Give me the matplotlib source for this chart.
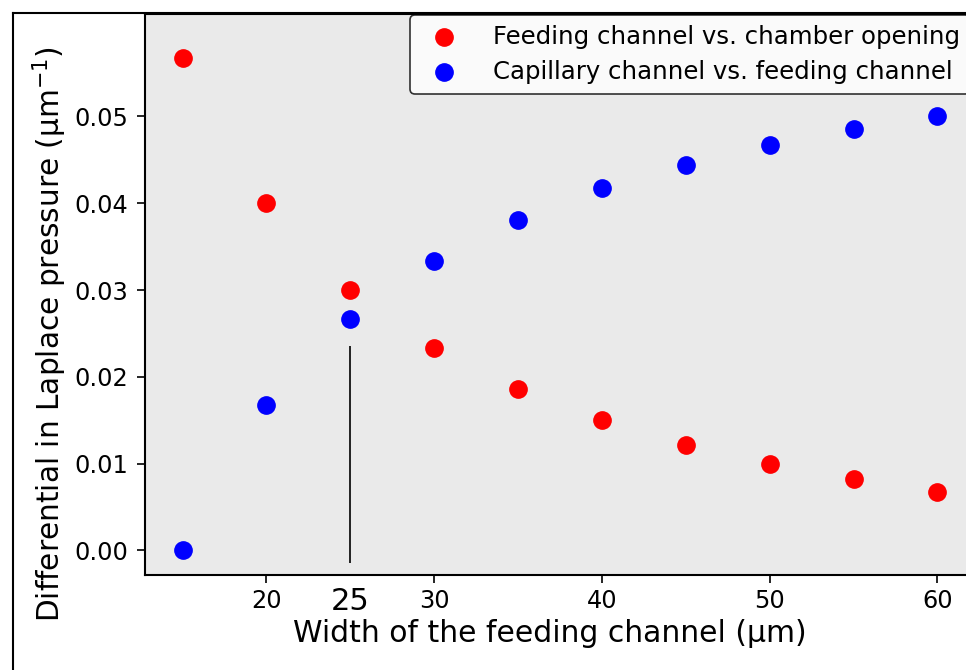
import numpy as np
import matplotlib
matplotlib.use('Agg')
import matplotlib.pyplot as plt
from matplotlib.lines import Line2D

# === Data ===
width = [15, 20, 25, 30, 35, 40, 45, 50, 55, 60]
feed_vs_chamber = [0.0567, 0.0400, 0.0300, 0.0233, 0.0186, 0.0150, 0.0122, 0.0100, 0.0082, 0.0067]
cap_vs_feed = [0.0000, 0.0167, 0.0267, 0.0333, 0.0381, 0.0417, 0.0444, 0.0467, 0.0485, 0.0500]
xticks = [20, 30, 40, 50, 60]
yticks = [0.00, 0.01, 0.02, 0.03, 0.04, 0.05]
marked_width = 25

W, H = 966, 670
fig = plt.figure(figsize=(W/100, H/100), dpi=100)
ax_h = 575 - 14
ax = fig.add_axes([145/W, 1-575/H, (W-145)/W, ax_h/H])
ax.set_facecolor('#eaeaea')

ax.scatter(width, feed_vs_chamber, s=155, color='red', label='Feeding channel vs. chamber opening', zorder=3)
ax.scatter(width, cap_vs_feed, s=155, color='blue', label='Capillary channel vs. feeding channel', zorder=3)
ax.vlines(marked_width, -0.0014, 0.0236, color='k', lw=1.2)

ax.set_xlim(12.76, 61.7)
ax.set_ylim(-0.00283, 0.0618)
ax.set_xticks(xticks)
ax.set_yticks(yticks)
ax.set_yticklabels([f'{v:.2f}' for v in yticks])
ax.tick_params(labelsize=17.3, length=6, width=1.2, colors='k')
ax.tick_params(axis='x', pad=4)
ax.tick_params(axis='y', pad=6)

# bigger label under the marked width (no tick there)
ax.annotate(str(marked_width), xy=(marked_width, 0), xycoords=('data', 'axes fraction'),
            xytext=(0, -35/1.389), textcoords='offset points',
            ha='center', va='baseline', fontsize=22)

ax.spines['right'].set_visible(False)
for s in ['left', 'bottom', 'top']:
    ax.spines[s].set_linewidth(1.5)

ax.set_xlabel('Width of the feeding channel (μm)', fontsize=21.5)
ax.set_ylabel('Differential in Laplace pressure (μm$^{-1}$)', fontsize=21.3)
ax.xaxis.set_label_coords((549.5-145)/(W-145), -(619-575)/ax_h)
ax.yaxis.set_label_coords((69-145)/(W-145), (575-334.5)/ax_h)

leg = ax.legend(loc='upper left', bbox_to_anchor=(410/W, 1-15/H), bbox_transform=fig.transFigure,
                fontsize=17.6, frameon=True, borderaxespad=0, handletextpad=1.0, labelspacing=0.45)
leg.get_frame().set_edgecolor('k')
leg.get_frame().set_linewidth(1.2)

# figure border (cropped frame)
fig.add_artist(Line2D([12.5/W, 12.5/W], [0, 1-13/H], transform=fig.transFigure, color='k', lw=1.5))
fig.add_artist(Line2D([12.5/W, 1], [1-13/H, 1-13/H], transform=fig.transFigure, color='k', lw=1.5))

fig.savefig('out.png', dpi=100)
